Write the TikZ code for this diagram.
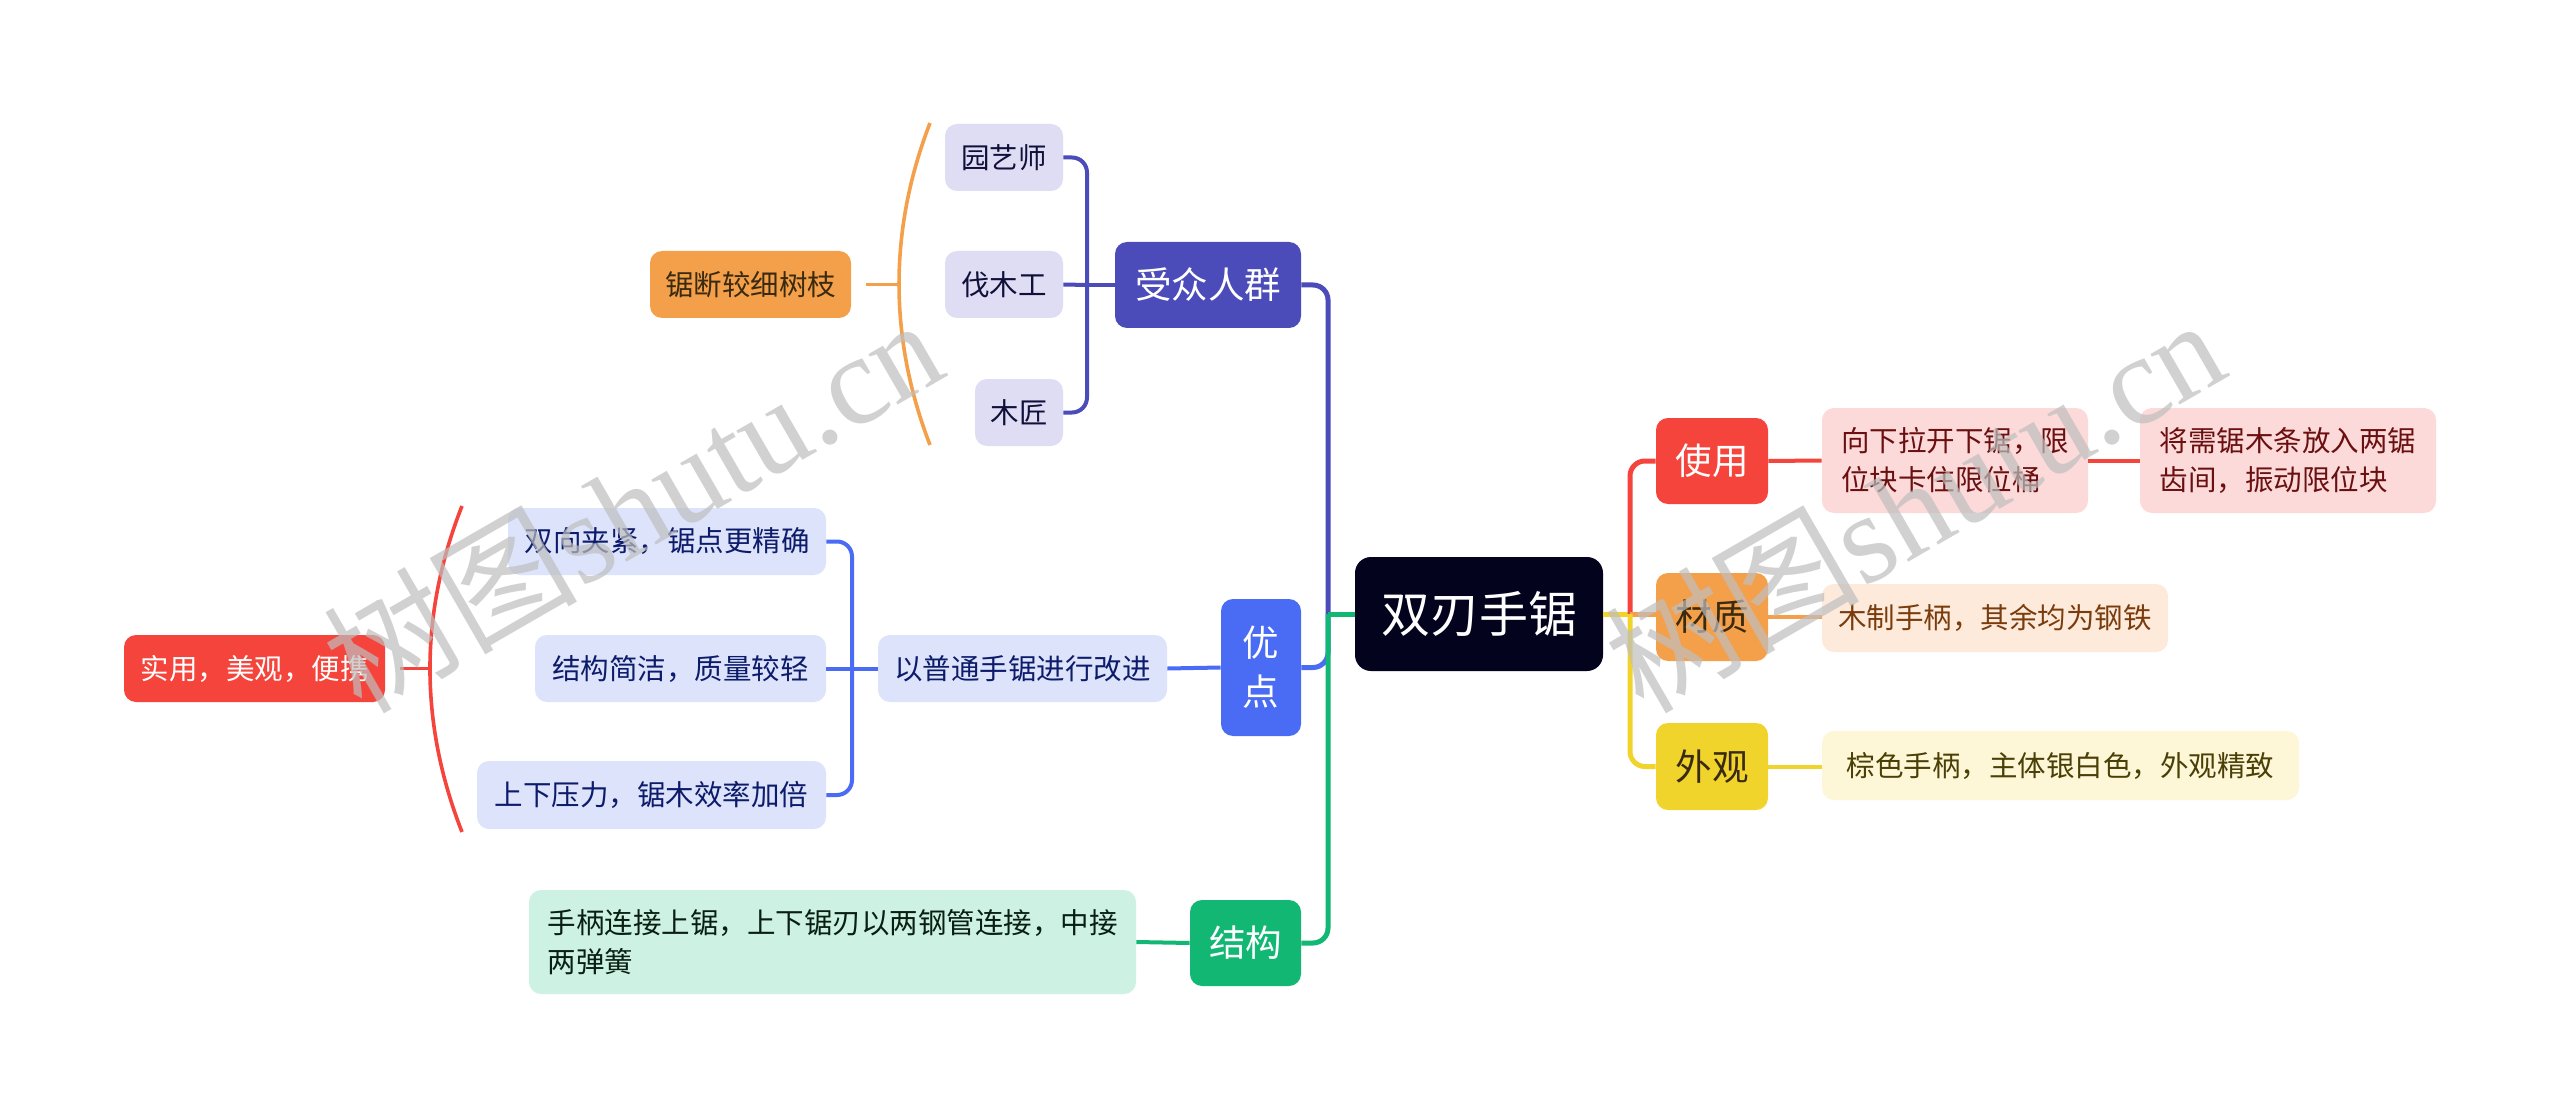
\documentclass[tikz,border=0pt]{standalone}
\usepackage{fontspec}
\setmainfont{Noto Sans CJK SC}
\newfontfamily\wmlatin{Liberation Serif}
\definecolor{cCentral}{HTML}{03031E}
\definecolor{cAud}{HTML}{4B4BB9}
\definecolor{cAudL}{HTML}{DEDDF3}
\definecolor{cAudT}{HTML}{10103A}
\definecolor{cAdv}{HTML}{4A6CF4}
\definecolor{cAdvL}{HTML}{DCE3FB}
\definecolor{cAdvT}{HTML}{0D1B6B}
\definecolor{cStr}{HTML}{12B774}
\definecolor{cStrL}{HTML}{CDF1E2}
\definecolor{cStrT}{HTML}{0A1F14}
\definecolor{cUse}{HTML}{F5443B}
\definecolor{cUseL}{HTML}{FDDADA}
\definecolor{cUseT}{HTML}{6B1010}
\definecolor{cMat}{HTML}{F4A04A}
\definecolor{cMatL}{HTML}{FDEADB}
\definecolor{cMatT}{HTML}{7A3C0C}
\definecolor{cLook}{HTML}{F1D42B}
\definecolor{cLookL}{HTML}{FDF7D8}
\definecolor{cLookT}{HTML}{4A3F05}
\definecolor{cDark}{HTML}{3A2A10}
\definecolor{cWM}{HTML}{BEBEBE}
\begin{document}
\begin{tikzpicture}[x=0.5pt,y=-0.5pt,
  box/.style={rounded corners=6pt, inner sep=0pt, align=center},
  lvl1/.style={box, font=\fontsize{18.25pt}{24.5pt}\selectfont},
  lvl2/.style={box, align=left, font=\fontsize{14.25pt}{19.5pt}\selectfont},
  conn/.style={line width=2.5pt, rounded corners=7.5pt},
  subconn/.style={line width=2pt, rounded corners=7.5pt},
  brk/.style={line width=1.8pt},
  wm/.style={text=cWM, opacity=0.7, inner sep=0pt, font=\fontsize{63.5pt}{68pt}\selectfont}
]
\useasboundingbox[fill=white] (0,0) rectangle (2560,1118);

% root
\node[box, fill=cCentral, text=white, rounded corners=8pt, minimum width=124pt, minimum height=57pt,
  font=\fontsize{24.5pt}{28pt}\selectfont] (root) at (1479,614) {双刃手锯};

% audience branch
\node[lvl1, fill=cAud, text=white, minimum width=93pt, minimum height=43pt] (aud) at (1208,285) {受众人群};
\node[lvl2, fill=cAudL, text=cAudT, minimum width=59pt, minimum height=33.5pt] (gard) at (1004,157.5) {园艺师};
\node[lvl2, fill=cAudL, text=cAudT, minimum width=59pt, minimum height=33.5pt] (logg) at (1004,284.5) {伐木工};
\node[lvl2, fill=cAudL, text=cAudT, minimum width=44pt, minimum height=33.5pt] (carp) at (1019,412.5) {木匠};
\node[lvl2, fill=cMat, text=cDark, minimum width=100.5pt, minimum height=33.5pt] (cut) at (750.5,284.5) {锯断较细树枝};

% advantages branch
\node[lvl1, fill=cAdv, text=white, minimum width=40pt, minimum height=68.5pt] (adv) at (1261,667.5) {优\\点};
\node[lvl2, fill=cAdvL, text=cAdvT, minimum width=144.5pt, minimum height=33.5pt] (imp) at (1022.5,668.5) {以普通手锯进行改进};
\node[lvl2, fill=cAdvL, text=cAdvT, minimum width=159pt, minimum height=33.5pt] (twow) at (667,541.5) {双向夹紧，锯点更精确};
\node[lvl2, fill=cAdvL, text=cAdvT, minimum width=145.5pt, minimum height=33.5pt] (simp) at (680.5,668.5) {结构简洁，质量较轻};
\node[lvl2, fill=cAdvL, text=cAdvT, minimum width=174.5pt, minimum height=34pt] (pres) at (651.5,795) {上下压力，锯木效率加倍};
\node[lvl2, fill=cUse, text=white, minimum width=130.5pt, minimum height=33.5pt] (prac) at (254.5,668.5) {实用，美观，便携};

% structure branch
\node[lvl1, fill=cStr, text=white, minimum width=55.5pt, minimum height=43pt] (str) at (1245.5,943) {结构};
\node[lvl2, fill=cStrL, text=cStrT, minimum width=303.5pt, minimum height=52pt] (strd) at (832.5,942) {手柄连接上锯，上下锯刃以两钢管连接，中接\\两弹簧};

% right side
\node[lvl1, fill=cUse, text=white, minimum width=56pt, minimum height=43pt] (use) at (1712,461) {使用};
\node[lvl1, fill=cMat, text=cDark, minimum width=56pt, minimum height=44pt] (mat) at (1712,617) {材质};
\node[lvl1, fill=cLook, text=cDark, minimum width=56pt, minimum height=43.5pt] (look) at (1712,766.5) {外观};
\node[lvl2, fill=cUseL, text=cUseT, minimum width=133pt, minimum height=52.5pt] (used1) at (1955,460.5) {向下拉开下锯，限\\位块卡住限位桶};
\node[lvl2, fill=cUseL, text=cUseT, minimum width=148pt, minimum height=52.5pt] (used2) at (2288,460.5) {将需锯木条放入两锯\\齿间，振动限位块};
\node[lvl2, fill=cMatL, text=cMatT, minimum width=173pt, minimum height=34pt] (matd) at (1995,618) {木制手柄，其余均为钢铁};
\node[lvl2, fill=cLookL, text=cLookT, minimum width=238.5pt, minimum height=34.5pt] (lookd) at (2060.5,765.5) {棕色手柄，主体银白色，外观精致};

% junctions
\coordinate (JL) at (1328,614);
\coordinate (JR) at (1630,614);
\coordinate (JA) at (1087,285);
\coordinate (JI) at (852,668.5);

% left connectors
\draw[conn, cAud] (aud.east) -| (JL);
\draw[conn, cAdv] (adv.east) -| (JL);
\draw[conn, cStr] (str.east) -| (JL);
\draw[conn, cStr] (JL) -- (root.west);

\draw[subconn, cAud] (aud.west) -- (JA);
\draw[subconn, cAud] (JA) |- (gard.east);
\draw[subconn, cAud] (JA) -- (logg.east);
\draw[subconn, cAud] (JA) |- (carp.east);

\draw[subconn, cAdv] (adv.west) -- (imp.east);
\draw[subconn, cAdv] (imp.west) -- (JI);
\draw[subconn, cAdv] (JI) |- (twow.east);
\draw[subconn, cAdv] (JI) -- (simp.east);
\draw[subconn, cAdv] (JI) |- (pres.east);

\draw[subconn, cStr] (str.west) -- (strd.east);

% brackets
\coordinate (obT) at (930,123);
\coordinate (obB) at (930,445);
\coordinate (obM) at (899,284.5);
\draw[brk, cMat] (obT) .. controls (888.7,230) and (888.7,338) .. (obB);
\draw[brk, cMat] ([xshift=7.5pt]cut.east) -- (obM);

\coordinate (rbT) at (462,506);
\coordinate (rbB) at (462,832);
\coordinate (rbM) at (430,668.5);
\draw[brk, cUse] (rbT) .. controls (419.3,614) and (419.3,723) .. (rbB);
\draw[brk, cUse] ([xshift=7.5pt]prac.east) -- (rbM);

% right connectors
\draw[conn, cLook] (root.east) -- (JR);
\draw[conn, cUse] (JR) |- (use.west);
\draw[conn, cMat] (JR) -- (JR -| mat.west);
\draw[conn, cLook] (JR) |- (look.west);

\draw[subconn, cUse] (use.east) -- (used1.west);
\draw[subconn, cUse] (used1.east) -- (used2.west);
\draw[subconn, cMat] (mat.east) -- (mat.east -| matd.west);
\draw[subconn, cLook] (look.east) -- (look.east -| lookd.west);

% watermarks
\node[wm, rotate=30] (wm1) at (632,503) {树图{\wmlatin shutu.cn}};
\node[wm, rotate=30] (wm2) at (1914,503) {树图{\wmlatin shutu.cn}};
\end{tikzpicture}
\end{document}
